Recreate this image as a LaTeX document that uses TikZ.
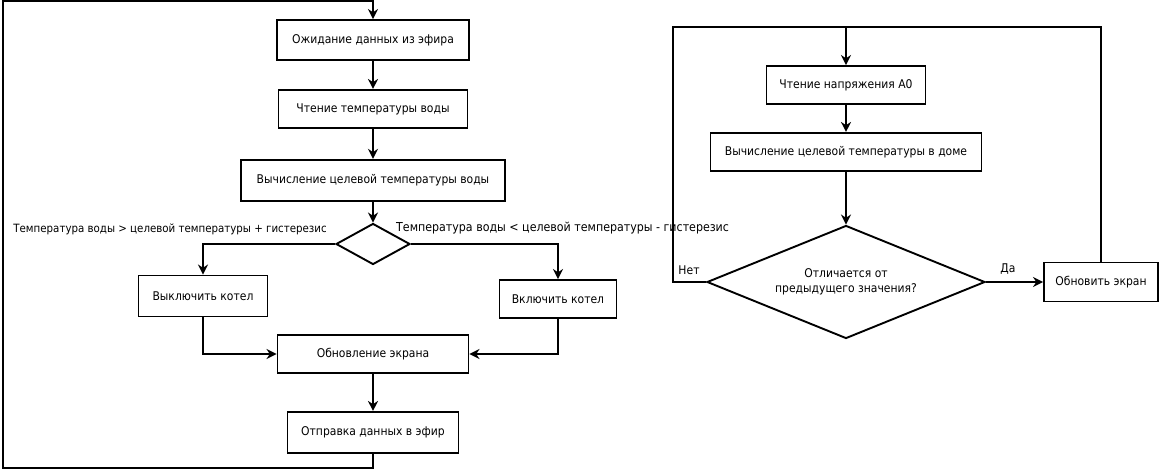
\documentclass[tikz,border=0pt]{standalone}
\usepackage{fontspec}
\setmainfont{DejaVu Sans Condensed}
\usetikzlibrary{arrows.meta, positioning, shapes.geometric}

\begin{document}
\begin{tikzpicture}[
    x=1pt, y=-1pt,
    box/.style={draw, line width=1.9pt, fill=white, inner sep=0pt,
                align=center, font=\fontsize{12}{15}\selectfont,
                minimum height=40pt},
    dec/.style={draw, diamond, line width=1.9pt, fill=white, inner sep=0pt,
                align=center, font=\fontsize{12}{15}\selectfont},
    lbl/.style={inner sep=0pt, font=\fontsize{12}{15}\selectfont},
    arr/.style={-{Stealth[length=10pt, width=10pt]}, line width=1.9pt},
    wire/.style={line width=1.9pt}
  ]
  \useasboundingbox (0,0) rectangle (1161,471);

  % left flowchart
  \node[box, minimum width=192pt] (wait) at (373,40) {Ожидание данных из эфира};
  \node[box, minimum width=189pt, minimum height=38pt, below=28pt of wait] (readw) {Чтение температуры воды};
  \node[box, minimum width=264pt, minimum height=41pt, below=30pt of readw] (calcw) {Вычисление целевой температуры воды};
  \node[dec, minimum width=74pt, minimum height=41pt] (chk) at (373,244) {};
  \node[box, minimum width=129pt, minimum height=41pt] (off) at (203,296) {Выключить котел};
  \node[box, minimum width=117pt, minimum height=38pt] (on) at (558,299) {Включить котел};
  \node[box, minimum width=191pt, minimum height=38pt] (scr) at (373,354) {Обновление экрана};
  \node[box, minimum width=171pt, minimum height=41pt, below=37pt of scr] (send) {Отправка данных в эфир};

  \node[lbl, anchor=east, font=\fontsize{11.4}{14}\selectfont] (hot) at (327,229) {Температура воды > целевой температуры + гистерезис};
  \node[lbl, anchor=west, font=\fontsize{12.3}{15}\selectfont] (cold) at (396,228) {Температура воды < целевой температуры - гистерезис};

  \coordinate (lbl-corner) at (3,468);
  \coordinate (ltl-corner) at (3,1);

  \draw[arr] (wait) -- (readw);
  \draw[arr] (readw) -- (calcw);
  \draw[arr] (calcw) -- (chk);
  \draw[arr] (chk.west) -| (off);
  \draw[arr] (chk.east) -| (on);
  \draw[arr] (off) |- (scr);
  \draw[arr] (on) |- (scr);
  \draw[arr] (scr) -- (send);
  \draw[arr] (send.south) |- (lbl-corner) -- (ltl-corner) -| (wait.north);

  % right flowchart
  \node[box, minimum width=159pt, minimum height=38pt] (volt) at (846,85) {Чтение напряжения A0};
  \node[box, minimum width=271pt, minimum height=38pt, below=27pt of volt] (calch) {Вычисление целевой температуры в доме};
  \node[dec, minimum width=278pt, minimum height=113pt, shape aspect=2.46] (diff) at (846,282) {Отличается от\\предыдущего значения?};
  \node[box, minimum width=114pt, minimum height=39pt] (upd) at (1101,282) {Обновить экран};

  \node[lbl] (no) at (689,270) {Нет};
  \node[lbl] (yes) at (1008,269) {Да};

  \coordinate (rtl-corner) at (673,27);

  \draw[arr] (volt) -- (calch);
  \draw[arr] (calch) -- (diff);
  \draw[arr] (diff.east) -- (upd.west);
  \draw[arr] (diff.west) -| (rtl-corner) -| (volt.north);
  \draw[wire] (upd.north) |- (volt.north |- rtl-corner);

\end{tikzpicture}
\end{document}
